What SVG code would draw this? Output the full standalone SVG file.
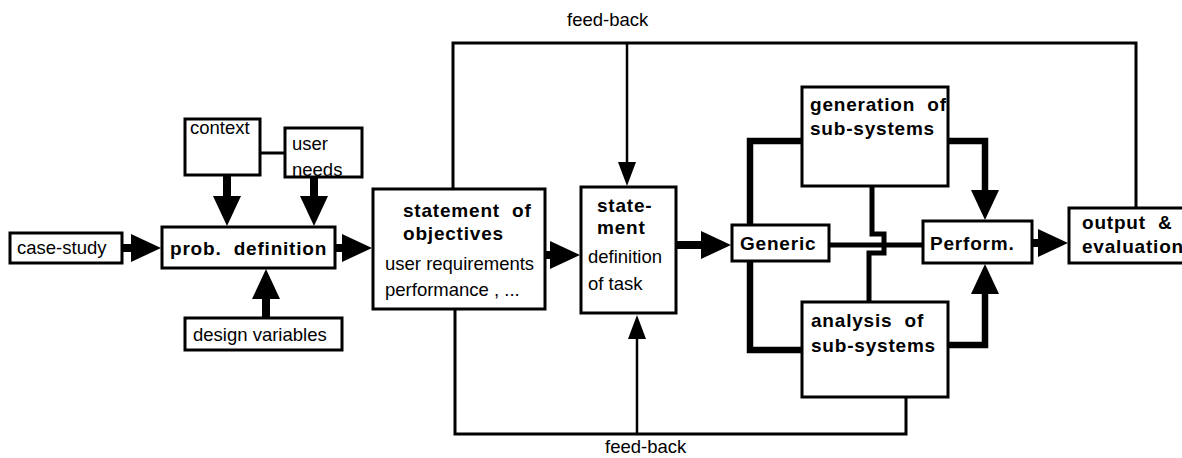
<svg xmlns="http://www.w3.org/2000/svg" width="1182" height="458" viewBox="0 0 1182 458">
  <style>
    .box { fill: #fff; stroke: #000; stroke-width: 3; }
    .reg { font-family: "Liberation Sans", Arial, sans-serif; font-size: 18.5px; fill: #000; }
    .bold { font-family: "Liberation Sans", Arial, sans-serif; font-size: 19px; font-weight: bold; letter-spacing: 0.8px; fill: #000; }
    .stem { stroke: #000; stroke-width: 8; fill: none; }
    .thick { stroke: #000; stroke-width: 6.5; fill: none; }
    .mid { stroke: #000; stroke-width: 5; fill: none; }
    .thin { stroke: #000; stroke-width: 2.5; fill: none; }
    .fb { stroke: #000; stroke-width: 3; fill: none; }
  </style>
  <defs>
    <!-- large filled head: base sits on the path end -->
    <marker id="big" viewBox="0 0 30 28" refX="1" refY="14" markerWidth="30" markerHeight="28" markerUnits="userSpaceOnUse" orient="auto">
      <path d="M0,0 L30,14 L0,28 Z" fill="#000"/>
    </marker>
    <!-- smaller head for the feed-back lines -->
    <marker id="small" viewBox="0 0 24 18" refX="1" refY="9" markerWidth="24" markerHeight="18" markerUnits="userSpaceOnUse" orient="auto">
      <path d="M0,0 L24,9 L0,18 Z" fill="#000"/>
    </marker>
  </defs>

  <!-- connectors -->
  <g id="connectors">
    <!-- feed-back loops -->
    <path class="fb" d="M453,189 V43 H1136 V208"/>
    <path class="thin" d="M627,43 V163" marker-end="url(#small)"/>
    <path class="fb" d="M455,309 V434 H906 V397"/>
    <path class="thin" d="M637,434 V338" marker-end="url(#small)"/>

    <!-- context to user needs -->
    <path class="fb" d="M260,153 H285"/>

    <!-- inputs of the problem definition -->
    <path class="stem" d="M122,248 H132" marker-end="url(#big)"/>
    <path class="stem" d="M227,175 V197" marker-end="url(#big)"/>
    <path class="stem" d="M314,177 V197" marker-end="url(#big)"/>
    <path class="stem" d="M266,318 V298" marker-end="url(#big)"/>

    <!-- main chain -->
    <path class="stem" d="M335,248 H343" marker-end="url(#big)"/>
    <path class="stem" d="M545,255 H551" marker-end="url(#big)"/>
    <path class="stem" d="M676,245 H702" marker-end="url(#big)"/>
    <path class="stem" d="M1032,243 H1039" marker-end="url(#big)"/>

    <!-- Generic to the two sub-system boxes -->
    <path class="thick" d="M750,225 V141 H802"/>
    <path class="thick" d="M750,261 V350 H802"/>
    <circle cx="802" cy="350" r="3" fill="#000"/>

    <!-- Generic to Perform. with the bridge of the vertical link -->
    <path class="mid" d="M829,245 H923"/>
    <path class="mid" d="M872,186 V234 H884 V253 H869 V302"/>

    <!-- sub-systems to Perform. -->
    <path class="thick" d="M948,141 H985 V191" marker-end="url(#big)"/>
    <path class="thick" d="M948,345 H985 V293" marker-end="url(#big)"/>
  </g>

  <!-- nodes -->
  <g id="case-study">
    <rect class="box" x="10" y="233" width="112" height="30"/>
    <text class="reg" x="17" y="254">case-study</text>
  </g>
  <g id="context">
    <rect class="box" x="185" y="119" width="75" height="56"/>
    <text class="reg" x="190" y="134">context</text>
  </g>
  <g id="user-needs">
    <rect class="box" x="285" y="128" width="77" height="49"/>
    <text class="reg" x="292" y="150">user</text>
    <text class="reg" x="292" y="176">needs</text>
  </g>
  <g id="prob-definition">
    <rect class="box" x="162" y="227" width="173" height="41"/>
    <text class="bold" x="170" y="255" xml:space="preserve">prob.  definition</text>
  </g>
  <g id="design-variables">
    <rect class="box" x="185" y="318" width="157" height="32"/>
    <text class="reg" x="193" y="341">design variables</text>
  </g>
  <g id="objectives">
    <rect class="box" x="373" y="189" width="172" height="120"/>
    <text class="bold" x="403" y="217" xml:space="preserve">statement  of</text>
    <text class="bold" x="403" y="240">objectives</text>
    <text class="reg" x="385" y="270">user requirements</text>
    <text class="reg" x="385" y="296">performance , ...</text>
  </g>
  <g id="statement">
    <rect class="box" x="581" y="187" width="95" height="126"/>
    <text class="bold" x="597" y="212">state-</text>
    <text class="bold" x="597" y="234">ment</text>
    <text class="reg" x="588" y="263">definition</text>
    <text class="reg" x="588" y="290">of task</text>
  </g>
  <g id="generic">
    <rect class="box" x="732" y="225" width="97" height="36"/>
    <text class="bold" x="740" y="250">Generic</text>
  </g>
  <g id="generation">
    <rect class="box" x="802" y="87" width="146" height="99"/>
    <text class="bold" x="810" y="111" xml:space="preserve">generation  of</text>
    <text class="bold" x="810" y="135">sub-systems</text>
  </g>
  <g id="analysis">
    <rect class="box" x="802" y="302" width="146" height="95"/>
    <text class="bold" x="811" y="327" xml:space="preserve">analysis  of</text>
    <text class="bold" x="811" y="352">sub-systems</text>
  </g>
  <g id="perform">
    <rect class="box" x="923" y="221" width="109" height="42"/>
    <text class="bold" x="930" y="250">Perform.</text>
  </g>
  <g id="output">
    <rect class="box" x="1069" y="208" width="130" height="55"/>
    <text class="bold" x="1082" y="229" xml:space="preserve">output  &amp;</text>
    <text class="bold" x="1082" y="253">evaluation</text>
  </g>

  <!-- loop labels -->
  <text class="reg" x="567" y="26">feed-back</text>
  <text class="reg" x="605" y="453">feed-back</text>
</svg>
